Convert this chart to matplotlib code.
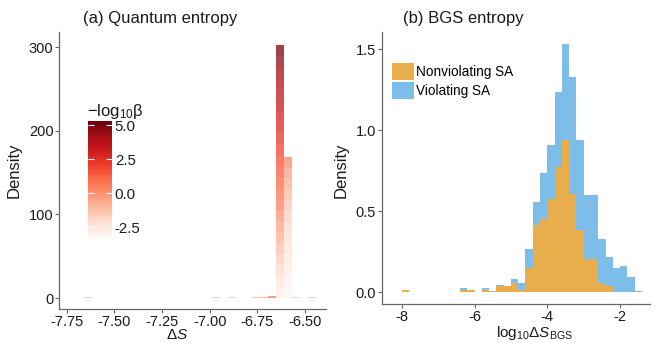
import numpy as np
import matplotlib
matplotlib.use("Agg")
import matplotlib.pyplot as plt
from matplotlib.colors import Normalize
from matplotlib.cm import ScalarMappable
from matplotlib.patches import Patch

plt.rcParams['font.family'] = ['Liberation Sans', 'DejaVu Sans']
plt.rcParams['mathtext.fontset'] = 'custom'
plt.rcParams['mathtext.rm'] = 'Liberation Sans'
plt.rcParams['mathtext.it'] = 'Liberation Sans:italic'
plt.rcParams['axes.unicode_minus'] = False

# (a) quantum entropy: histogram bins, stacked by -log10(beta)
q_binw = 0.0419
q_centers = [-7.637, -7.176, -6.967, -6.883, -6.799, -6.757, -6.715, -6.674,
             -6.632, -6.590, -6.548, -6.464]
q_heights = [0.8, 0.6, 0.8, 0.8, 0.6, 0.8, 1.0, 2.4, 302, 169, 1.2, 1.0]
q_levels = [
    [-1.0], [-1.5], [-1.0], [-1.2], [-1.5], [-1.0], [-0.8], [0.5],
    [-2.8, -2.4, -2.0, -1.6, -1.2, -0.8, -0.4, 0.0, 0.4, 0.8, 1.1, 1.4,
     1.7, 2.0, 2.3, 2.6, 2.9, 3.2, 3.5, 3.8, 4.2, 4.6, 5.0],
    [-3.1, -3.0, -2.8, -2.6, -2.4, -2.2, -2.0, -1.7, -1.4, -1.1, -0.8, -0.4, 0.2],
    [-1.5], [-1.0],
]
beta_ticks = [-2.5, 0.0, 2.5, 5.0]

# (b) BGS entropy: bin centres, density of each group (blue = top of stack)
b_centers = [-7.9, -7.7, -7.5, -7.3, -7.1, -6.9, -6.7, -6.5, -6.3, -6.1, -5.9,
             -5.7, -5.5, -5.3, -5.1, -4.9, -4.7, -4.5, -4.3, -4.1, -3.9, -3.7,
             -3.5, -3.3, -3.1, -2.9, -2.7, -2.5, -2.3, -2.1, -1.9, -1.7, -1.5]
nonviol = [0.015, 0, 0, 0, 0, 0, 0, 0, 0.015, 0.015, 0,
           0.015, 0, 0.04, 0.037, 0.057, 0.016, 0.148, 0.414, 0.455, 0.578, 0.776,
           0.942, 0.604, 0.383, 0.205, 0.205, 0.057, 0.037, 0, 0, 0, 0]
viol_top = [0.015, 0, 0, 0, 0, 0, 0, 0, 0.025, 0.015, 0,
            0.025, 0.008, 0.045, 0.04, 0.082, 0.055, 0.266, 0.557, 0.737, 0.907, 1.235,
            1.532, 1.331, 0.938, 0.598, 0.598, 0.328, 0.221, 0.149, 0.164, 0.092, 0.01]

W, H = 657, 343
fig = plt.figure(figsize=(W / 100, H / 100), dpi=100)
axcol = '#666666'
txt = '#1a1a1a'

def style(ax):
    for s in ['top', 'right']:
        ax.spines[s].set_visible(False)
    for s in ['left', 'bottom']:
        ax.spines[s].set_color(axcol)
        ax.spines[s].set_linewidth(0.9)
    ax.tick_params(colors=axcol, labelcolor=txt, labelsize=10.5, length=3, width=0.8, pad=1)

# ---- left panel
ax1 = fig.add_axes([59 / W, 1 - 309 / H, (326 - 59) / W, (309 - 32) / H])
cmap = plt.get_cmap('Reds')
norm = Normalize(-3.2, 5.3)
for c, h, lv in zip(q_centers, q_heights, q_levels):
    seg = h / len(lv)
    bottom = 0
    for v in lv:
        ax1.bar(c, seg, bottom=bottom, width=q_binw, color=cmap(norm(v)),
                alpha=0.75, linewidth=0)
        bottom += seg
ax1.set_xlim(-7.79, -6.39)
ax1.set_ylim(-13, 318)
ax1.set_xticks([-7.75, -7.5, -7.25, -7.0, -6.75, -6.5])
ax1.set_xticklabels(['%.2f' % t for t in ax1.get_xticks()])
ax1.set_yticks([0, 100, 200, 300])
style(ax1)

cax = fig.add_axes([88 / W, 1 - 237 / H, 24 / W, 116 / H])
cb = fig.colorbar(ScalarMappable(norm=norm, cmap=cmap), cax=cax, ticks=beta_ticks)
cb.outline.set_visible(False)
cb.ax.set_yticklabels(['%.1f' % t for t in beta_ticks])
cb.ax.tick_params(right=True, left=True, direction='in', color='white', length=4,
                  width=0.8, labelcolor=txt, labelsize=10.8, pad=2)
fig.text(87 / W, 1 - 111 / H, '\u2212log$_{10}$\u03b2', ha='left', va='center',
         fontsize=12, color=txt)

fig.text(83 / W, 1 - 18 / H, '(a) Quantum entropy', ha='left', va='center',
         fontsize=12, color=txt)
fig.text(177 / W, 0.002, '\u0394$S$', ha='center', va='bottom',
         fontsize=11, color=txt)
fig.text(14 / W, 1 - 170 / H, 'Density', ha='center', va='center', rotation=90,
         fontsize=12, color=txt)

# ---- right panel
ax2 = fig.add_axes([381.7 / W, 1 - 304 / H, (650 - 381.7) / W, (304 - 32) / H])
blue = '#7DBDEA'
orange = '#E8AE4C'
ax2.bar(b_centers, viol_top, width=0.2, color=blue, linewidth=0)
ax2.bar(b_centers, nonviol, width=0.2, color=orange, linewidth=0)
ax2.set_xlim(-8.55, -1.18)
ax2.set_ylim(-0.072, 1.606)
ax2.set_xticks([-8, -6, -4, -2])
ax2.set_yticks([0, 0.5, 1.0, 1.5])
ax2.set_yticklabels(['0.0', '0.5', '1.0', '1.5'])
style(ax2)
handles = [Patch(facecolor=orange, label='Nonviolating SA'),
           Patch(facecolor=blue, label='Violating SA')]
ax2.legend(handles=handles, loc='upper left', bbox_to_anchor=(0.038, 0.885),
           frameon=False, fontsize=9.8, handlelength=1.6, handleheight=1.55,
           handletextpad=0.2, labelspacing=0.1, borderpad=0, borderaxespad=0)

fig.text(403 / W, 1 - 18 / H, '(b) BGS entropy', ha='left', va='center',
         fontsize=12, color=txt)
fig.text(535 / W, 0.002, 'log$_{10}$\u0394$S_{\\mathrm{BGS}}$',
         ha='center', va='bottom', fontsize=11, color=txt)
fig.text(341 / W, 1 - 170 / H, 'Density', ha='center', va='center', rotation=90,
         fontsize=12, color=txt)

fig.savefig('out.png', dpi=100)
